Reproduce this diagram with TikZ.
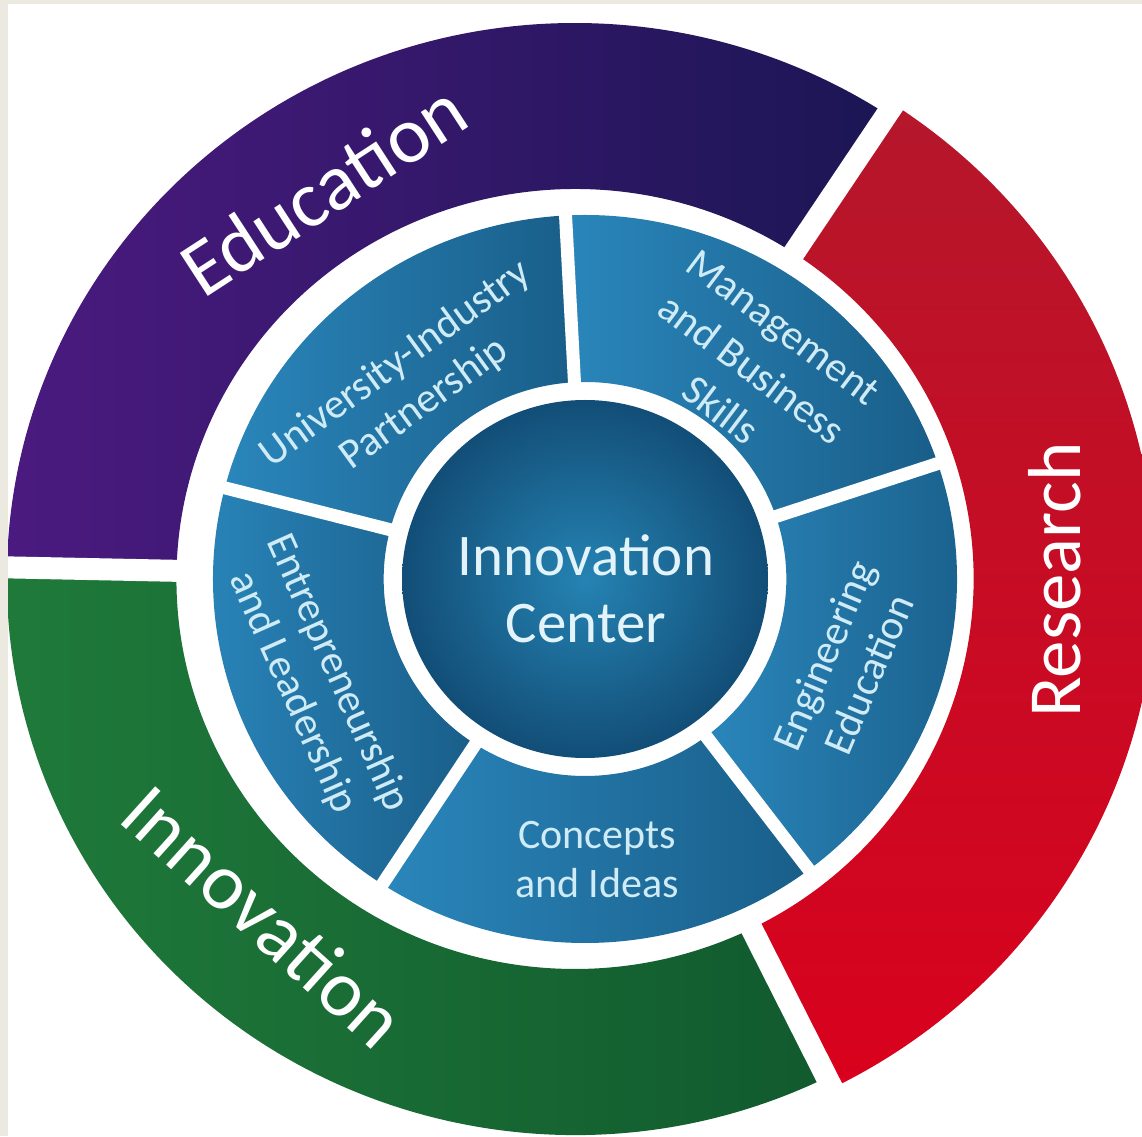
\documentclass[tikz,border=0pt]{standalone}
\usepackage{fontspec}
\setmainfont{Carlito}
\definecolor{edupurple}{HTML}{4B1A80}
\definecolor{edunavy}{HTML}{1B1654}
\definecolor{resdark}{HTML}{B5172B}
\definecolor{reslight}{HTML}{D9011D}
\definecolor{innolight}{HTML}{1F7A3A}
\definecolor{innodark}{HTML}{115A2E}
\definecolor{partlight}{HTML}{2A86BB}
\definecolor{partdark}{HTML}{195E89}
\definecolor{corelight}{HTML}{2583B3}
\definecolor{coredark}{HTML}{124E77}
\definecolor{parttext}{HTML}{CFEBF6}
\definecolor{coretext}{HTML}{E2F3FA}
\definecolor{frame}{HTML}{ECEAE0}

\begin{document}
\begin{tikzpicture}[x=1pt,y=1pt,
    cut/.style={white,line width=22pt},
    divider/.style={white,line width=13pt},
    ringlabel/.style={text=white,font=\fontsize{80}{96}\selectfont},
    partlabel/.style={text=parttext,align=center,font=\fontsize{42}{49}\selectfont},
    corelabel/.style={text=coretext,align=center,font=\fontsize{59}{67}\selectfont}]
\useasboundingbox (0,0) rectangle (1142,1136);
\fill[white] (0,0) rectangle (1142,1136);
\coordinate (hub) at (575,557);
\coordinate (core) at (585,557);

% outer ring
\begin{scope}[shift={(hub)},xscale=1.022]
    \shade[left color=edupurple,right color=edunavy] (56.7:390) arc[start angle=56.7,end angle=178.8,radius=390]
        -- (178.8:556) arc[start angle=178.8,end angle=56.7,radius=556] -- cycle;
    \shade[top color=resdark,bottom color=reslight] (-63.7:390) arc[start angle=-63.7,end angle=56.7,radius=390]
        -- (56.7:568) arc[start angle=56.7,end angle=-63.7,radius=568] -- cycle;
    \shade[left color=innolight,right color=innodark] (178.8:390) arc[start angle=178.8,end angle=296.3,radius=390]
        -- (296.3:556) arc[start angle=296.3,end angle=178.8,radius=556] -- cycle;
    \foreach \a in {56.7,178.8,296.3}{
        \draw[cut] (\a:370) -- (\a:600);
    }
\end{scope}

% five blue parts and the centre
\begin{scope}[shift={(core)},xscale=1.022]
    \foreach \a/\b in {18.5/93,93/165.5,165.5/237,237/307,307/378.5}{
        \shade[left color=partlight,right color=partdark] (\a:197) arc[start angle=\a,end angle=\b,radius=197]
            -- (\b:364) arc[start angle=\b,end angle=\a,radius=364] -- cycle;
    }
    \foreach \a in {18.5,93,165.5,237,307}{
        \draw[divider] (\a:185) -- (\a:375);
    }
    \shade[inner color=corelight,outer color=coredark] (0,0) circle[radius=179];
\end{scope}

\node[ringlabel,rotate=33] (edu) at (323,947) {Education};
\node[ringlabel,rotate=90,font=\fontsize{75}{90}\selectfont] (res) at (1055,556) {Research};
\node[ringlabel,rotate=-42] (inno) at (264,220) {Innovation};

\node[partlabel,rotate=36] (uip) at (410,752) {University-Industry\\Partnership};
\node[partlabel,rotate=-37,font=\fontsize{42}{52}\selectfont] (mbs) at (752,767) {Management\\and Business\\Skills};
\node[partlabel,rotate=67] (ee) at (846,471) {Engineering\\Education};
\node[partlabel] (ci) at (597,276) {Concepts\\and Ideas};
\node[partlabel,rotate=-66] (el) at (315,453) {Entrepreneurship\\and Leadership};
\node[corelabel] (ic) at (586,547) {Innovation\\Center};

\fill[frame] (0,0) rectangle (8,1136);
\fill[frame] (0,1132) rectangle (1142,1136);
\end{tikzpicture}
\end{document}
